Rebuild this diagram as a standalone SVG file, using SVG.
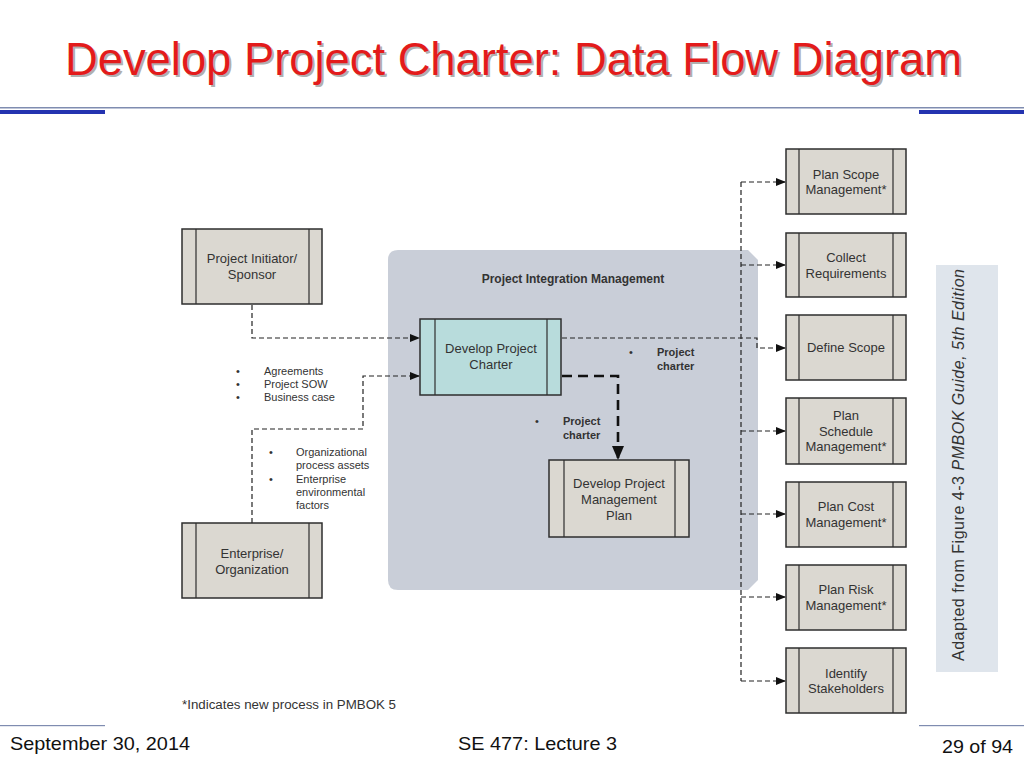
<svg xmlns="http://www.w3.org/2000/svg" width="1024" height="768" viewBox="0 0 1024 768">
<defs>
<style>
.t{font-family:"Liberation Sans",Arial,sans-serif;fill:#333;}
.bx{font-size:13px;text-anchor:middle;}
.box{fill:#dbd8d1;stroke:#2e2e2e;stroke-width:1.5;}
.side{fill:none;stroke:#2e2e2e;stroke-width:1.2;}
.dash{fill:none;stroke:#222;stroke-width:1.2;stroke-dasharray:5,3;}
.lbl{font-size:11px;}
.b{font-weight:bold;}
</style>
<marker id="ah" markerWidth="10" markerHeight="8" refX="9" refY="4" orient="auto" markerUnits="userSpaceOnUse">
<path d="M0,0 L10,4 L0,8 Z" fill="#111"/>
</marker>
<marker id="ah2" markerWidth="14" markerHeight="12" refX="13" refY="6" orient="auto" markerUnits="userSpaceOnUse">
<path d="M0,0 L14,6 L0,12 Z" fill="#111"/>
</marker>
</defs>
<rect width="1024" height="768" fill="#fff"/>
<g id="title">
<text x="67" y="77" font-family="Liberation Sans,Arial,sans-serif" font-size="47" fill="#b0b0b0" textLength="897" lengthAdjust="spacingAndGlyphs">Develop Project Charter: Data Flow Diagram</text>
<text x="65" y="75" font-family="Liberation Sans,Arial,sans-serif" font-size="47" fill="#e31b1b" textLength="897" lengthAdjust="spacingAndGlyphs">Develop Project Charter: Data Flow Diagram</text>
</g>
<g id="rules">
<rect x="0" y="107" width="1024" height="1.5" fill="#7f8cb0"/>
<rect x="0" y="110" width="105" height="4" fill="#2433b0"/>
<rect x="919" y="110" width="105" height="4" fill="#2433b0"/>
<rect x="0" y="725" width="105" height="1.2" fill="#7f8cb0"/>
<rect x="919" y="725" width="105" height="1.2" fill="#7f8cb0"/>
</g>
<g id="footer">
<text x="10" y="750" font-family="Liberation Sans,Arial,sans-serif" font-size="19" fill="#111" textLength="180" lengthAdjust="spacingAndGlyphs">September 30, 2014</text>
<text x="458" y="750" font-family="Liberation Sans,Arial,sans-serif" font-size="19" fill="#111" textLength="159" lengthAdjust="spacingAndGlyphs">SE 477: Lecture 3</text>
<text x="942" y="753" font-family="Liberation Sans,Arial,sans-serif" font-size="19" fill="#111" textLength="71" lengthAdjust="spacingAndGlyphs">29 of 94</text>
</g>
<g id="integration-panel">
<path d="M398,250 L748,250 L758,260 L758,580 L748,590 L398,590 Q388,590 388,580 L388,260 Q388,250 398,250 Z" fill="#c9ced8"/>
<text class="t b" x="573" y="283" font-size="12" text-anchor="middle" fill="#222">Project Integration Management</text>
</g>
<g id="connectors">
<polyline class="dash" points="252,305 252,338 419,338" marker-end="url(#ah)"/>
<polyline class="dash" points="252,523 252,429 363,429 363,376 419,376" marker-end="url(#ah)"/>
<polyline fill="none" stroke="#111" stroke-width="2.6" stroke-dasharray="10,6" points="562,376 618,376 618,459" marker-end="url(#ah2)"/>
<polyline class="dash" points="562,338 757,338 757,348 785,348" marker-end="url(#ah)"/>
<line class="dash" x1="741" y1="182" x2="741" y2="681"/>
<line class="dash" x1="741" y1="182" x2="785" y2="182" marker-end="url(#ah)"/>
<line class="dash" x1="741" y1="265" x2="785" y2="265" marker-end="url(#ah)"/>
<line class="dash" x1="741" y1="431" x2="785" y2="431" marker-end="url(#ah)"/>
<line class="dash" x1="741" y1="514" x2="785" y2="514" marker-end="url(#ah)"/>
<line class="dash" x1="741" y1="597" x2="785" y2="597" marker-end="url(#ah)"/>
<line class="dash" x1="741" y1="681" x2="785" y2="681" marker-end="url(#ah)"/>
</g>
<g id="labels" class="t lbl">
<text x="236" y="375">•</text><text x="264" y="375">Agreements</text>
<text x="236" y="388">•</text><text x="264" y="388">Project SOW</text>
<text x="236" y="401">•</text><text x="264" y="401">Business case</text>
<text x="269" y="456">•</text><text x="296" y="456">Organizational</text>
<text x="296" y="469">process assets</text>
<text x="269" y="483">•</text><text x="296" y="483">Enterprise</text>
<text x="296" y="496">environmental</text>
<text x="296" y="509">factors</text>
<text x="629" y="356">•</text><text class="b" x="657" y="356">Project</text>
<text class="b" x="657" y="370">charter</text>
<text x="535" y="425">•</text><text class="b" x="563" y="425">Project</text>
<text class="b" x="563" y="439">charter</text>
<text x="182" y="709" font-size="12.5" textLength="214" lengthAdjust="spacingAndGlyphs">*Indicates new process in PMBOK 5</text>
</g>
<g id="project-initiator">
<rect class="box" x="182" y="229" width="140" height="75"/>
<line class="side" x1="196" y1="229" x2="196" y2="304"/><line class="side" x1="309" y1="229" x2="309" y2="304"/>
<text class="t bx" x="252" y="263">Project Initiator/</text><text class="t bx" x="252" y="279">Sponsor</text>
</g>
<g id="enterprise">
<rect class="box" x="182" y="523" width="140" height="75"/>
<line class="side" x1="196" y1="523" x2="196" y2="598"/><line class="side" x1="309" y1="523" x2="309" y2="598"/>
<text class="t bx" x="252" y="558">Enterprise/</text><text class="t bx" x="252" y="574">Organization</text>
</g>
<g id="develop-charter">
<rect x="420" y="319" width="141" height="76" fill="#b8dcdc" stroke="#2e2e2e" stroke-width="1.5"/>
<line class="side" x1="435" y1="319" x2="435" y2="395"/><line class="side" x1="547" y1="319" x2="547" y2="395"/>
<text class="t bx" x="491" y="353">Develop Project</text><text class="t bx" x="491" y="369">Charter</text>
</g>
<g id="develop-pmp">
<rect class="box" x="549" y="460" width="140" height="77"/>
<line class="side" x1="564" y1="460" x2="564" y2="537"/><line class="side" x1="675" y1="460" x2="675" y2="537"/>
<text class="t bx" x="619" y="488">Develop Project</text><text class="t bx" x="619" y="504">Management</text><text class="t bx" x="619" y="520">Plan</text>
</g>
<g id="plan-scope">
<rect class="box" x="786" y="149" width="120" height="65"/>
<line class="side" x1="799" y1="149" x2="799" y2="214"/><line class="side" x1="893" y1="149" x2="893" y2="214"/>
<text class="t bx" x="846" y="179">Plan Scope</text><text class="t bx" x="846" y="194">Management*</text>
</g>
<g id="collect-req">
<rect class="box" x="786" y="233" width="120" height="64"/>
<line class="side" x1="799" y1="233" x2="799" y2="297"/><line class="side" x1="893" y1="233" x2="893" y2="297"/>
<text class="t bx" x="846" y="262">Collect</text><text class="t bx" x="846" y="278">Requirements</text>
</g>
<g id="define-scope">
<rect class="box" x="786" y="315" width="120" height="65"/>
<line class="side" x1="799" y1="315" x2="799" y2="380"/><line class="side" x1="893" y1="315" x2="893" y2="380"/>
<text class="t bx" x="846" y="352">Define Scope</text>
</g>
<g id="plan-schedule">
<rect class="box" x="786" y="398" width="120" height="66"/>
<line class="side" x1="799" y1="398" x2="799" y2="464"/><line class="side" x1="893" y1="398" x2="893" y2="464"/>
<text class="t bx" x="846" y="420">Plan</text><text class="t bx" x="846" y="436">Schedule</text><text class="t bx" x="846" y="451">Management*</text>
</g>
<g id="plan-cost">
<rect class="box" x="786" y="482" width="120" height="65"/>
<line class="side" x1="799" y1="482" x2="799" y2="547"/><line class="side" x1="893" y1="482" x2="893" y2="547"/>
<text class="t bx" x="846" y="511">Plan Cost</text><text class="t bx" x="846" y="527">Management*</text>
</g>
<g id="plan-risk">
<rect class="box" x="786" y="565" width="120" height="65"/>
<line class="side" x1="799" y1="565" x2="799" y2="630"/><line class="side" x1="893" y1="565" x2="893" y2="630"/>
<text class="t bx" x="846" y="594">Plan Risk</text><text class="t bx" x="846" y="610">Management*</text>
</g>
<g id="identify-stakeholders">
<rect class="box" x="786" y="648" width="120" height="65"/>
<line class="side" x1="799" y1="648" x2="799" y2="713"/><line class="side" x1="893" y1="648" x2="893" y2="713"/>
<text class="t bx" x="846" y="678">Identify</text><text class="t bx" x="846" y="693">Stakeholders</text>
</g>
<g id="source-note">
<rect x="936" y="265" width="62" height="407" fill="#dfe5ec"/>
<text class="t" x="0" y="0" font-size="16" transform="translate(964,661) rotate(-90)" textLength="392">Adapted from Figure 4-3 <tspan font-style="italic">PMBOK Guide, 5th Edition</tspan></text>
</g>
</svg>
